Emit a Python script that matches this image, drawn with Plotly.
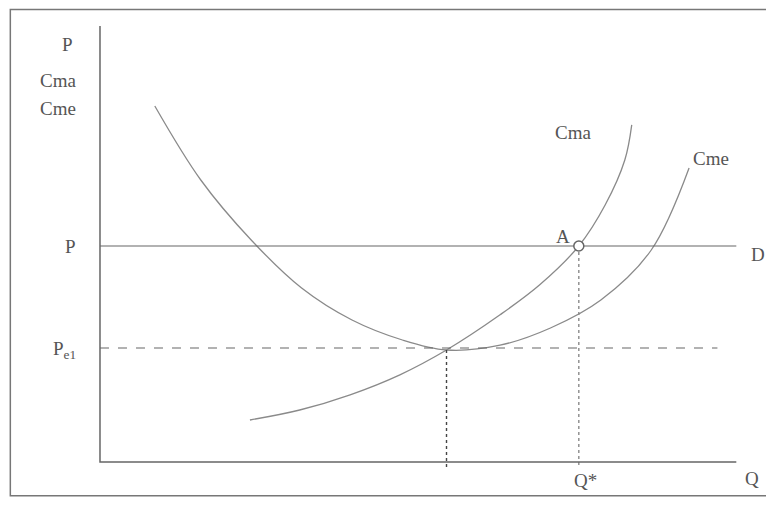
import plotly.graph_objects as go

# values (Q on x, price/cost on y)
cme_q = [0.87, 1.6, 2.4, 3.2, 4.0, 4.8, 5.5, 6.35, 7.15, 7.95, 8.75, 9.35]
cme_p = [8.9, 7.05, 5.55, 4.35, 3.55, 3.05, 2.8, 2.92, 3.35, 4.05, 5.3, 7.35]

cma_q = [2.38, 3.17, 3.97, 4.76, 5.5, 6.35, 6.98, 7.6, 8.02, 8.33, 8.44]
cma_p = [1.05, 1.3, 1.68, 2.18, 2.8, 3.68, 4.43, 5.4, 6.43, 7.55, 8.43]

price = 5.4          # P (demand line D)
price_e1 = 2.85      # Pe1
q_min = 5.5          # Q at minimum of Cme
q_star = 7.6         # Q*
q_end = 10.1
y_top = 10.9

GREY = '#8a8a8a'
DARK = '#666666'
FONT = dict(family='Liberation Serif, DejaVu Serif, serif', size=19, color='#555555')

fig = go.Figure()

fig.add_trace(go.Scatter(x=cme_q, y=cme_p, mode='lines',
                         line=dict(color=GREY, width=1.3, shape='spline'),
                         hoverinfo='skip'))
fig.add_trace(go.Scatter(x=cma_q, y=cma_p, mode='lines',
                         line=dict(color=GREY, width=1.3, shape='spline'),
                         hoverinfo='skip'))

# demand line and dashed guides
fig.add_trace(go.Scatter(x=[0, q_end], y=[price, price], mode='lines',
                         line=dict(color=DARK, width=1.2), hoverinfo='skip'))
fig.add_trace(go.Scatter(x=[0, 9.8], y=[price_e1, price_e1], mode='lines',
                         line=dict(color=DARK, width=1.2, dash='dash'), hoverinfo='skip'))
fig.add_trace(go.Scatter(x=[q_min, q_min], y=[2.8, -0.2], mode='lines',
                         line=dict(color='#444444', width=1.4, dash='dot'), hoverinfo='skip'))
fig.add_trace(go.Scatter(x=[q_star, q_star], y=[price, -0.1], mode='lines',
                         line=dict(color=GREY, width=1.4, dash='dot'), hoverinfo='skip'))

# point A
fig.add_trace(go.Scatter(x=[q_star], y=[price], mode='markers',
                         marker=dict(size=10, color='white', line=dict(color=DARK, width=1.5)),
                         hoverinfo='skip'))

# axes
fig.add_trace(go.Scatter(x=[0, 0, q_end], y=[y_top, 0, 0], mode='lines',
                         line=dict(color=DARK, width=1.5), hoverinfo='skip'))

labels = [
    (-0.4, 10.45, 'P', 'right'),
    (-0.35, 9.55, 'Cma', 'right'),
    (-0.35, 8.85, 'Cme', 'right'),
    (-0.35, price, 'P', 'right'),
    (-0.35, price_e1 - 0.05, 'P<sub>e1</sub>', 'right'),
    (q_star + 0.1, -0.45, 'Q*', 'center'),
    (10.2, -0.4, 'Q', 'left'),
    (10.3, price - 0.2, 'D', 'left'),
    (7.35, 5.65, 'A', 'center'),
    (7.5, 8.25, 'Cma', 'center'),
    (9.7, 7.6, 'Cme', 'center'),
]
for x, y, t, anchor in labels:
    fig.add_annotation(x=x, y=y, text=t, showarrow=False, xanchor=anchor,
                       font=FONT)

# outer frame of the scanned figure
fig.add_shape(type='rect', xref='paper', yref='paper',
              x0=0.003, y0=0.04, x1=0.982, y1=0.997,
              line=dict(color='#777777', width=1.5))

# page body has an 8px margin, so ranges are shifted to keep the diagram in place
fig.update_layout(
    width=774, height=508,
    margin=dict(l=0, r=0, t=0, b=0),
    paper_bgcolor='white', plot_bgcolor='white',
    showlegend=False,
    xaxis=dict(range=[-1.46, 10.825], visible=False, fixedrange=True),
    yaxis=dict(range=[-1.35, 11.35], visible=False, fixedrange=True),
)

fig.write_html("out.html")
